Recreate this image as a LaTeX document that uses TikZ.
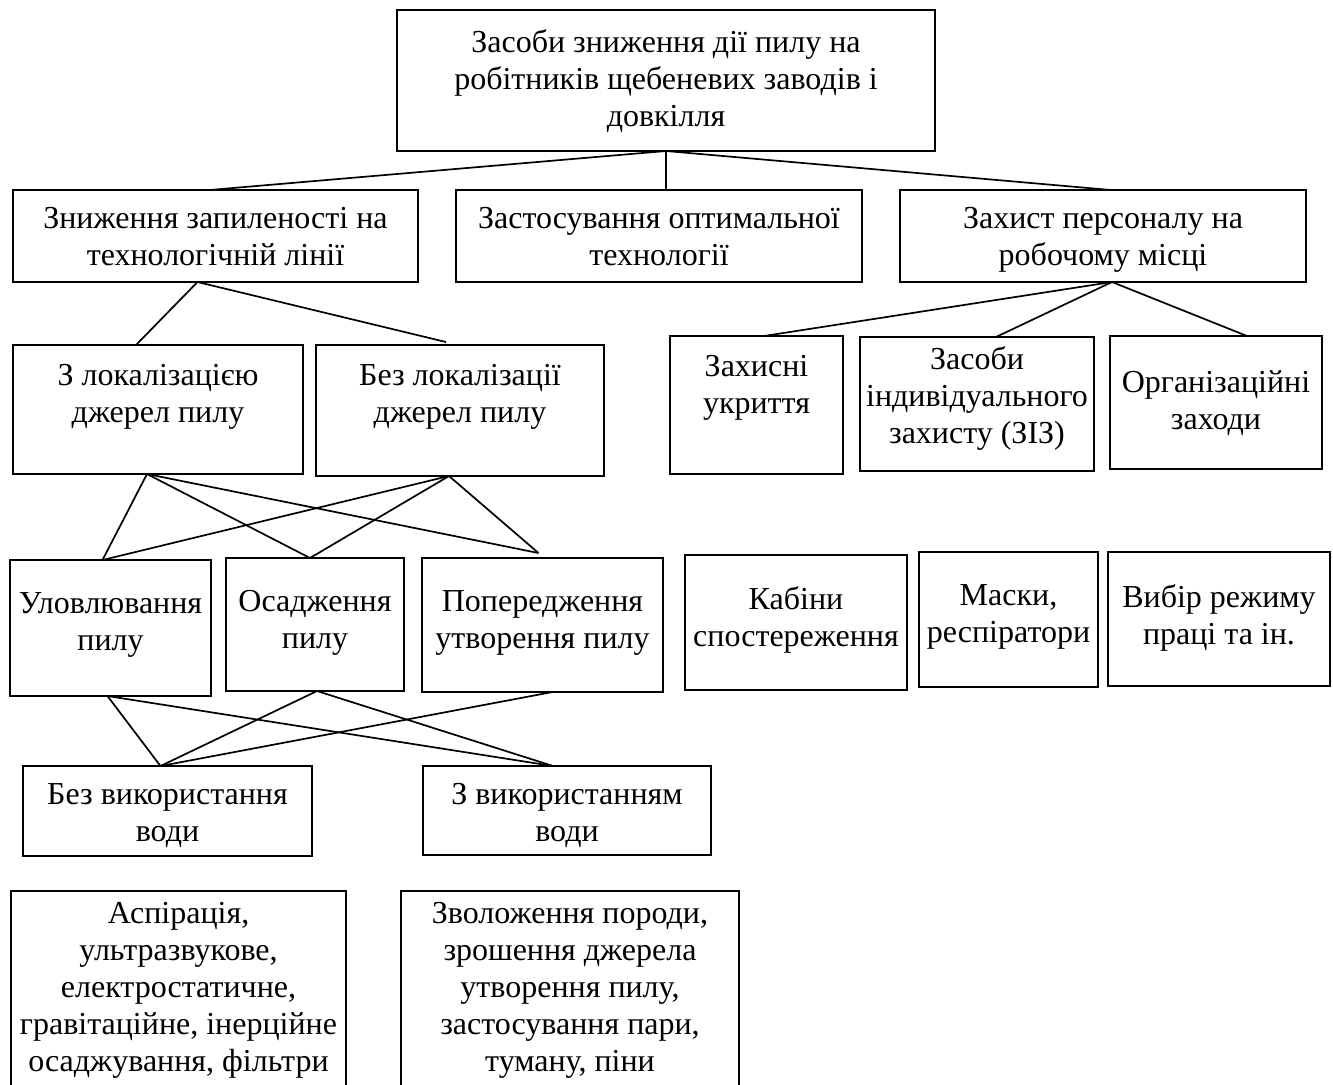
\documentclass[tikz,border=0pt]{standalone}
\usepackage{fontspec}
\setmainfont{Liberation Serif}
\usetikzlibrary{calc}
\newcommand\mybox[5]{\node[box,minimum width={(#4-#2)*0.5pt},minimum height={(#5-#3)*0.5pt}] (#1) at (#2,#3) {};}
\begin{document}
\begin{tikzpicture}[x=0.5pt,y=-0.5pt,
 box/.style={draw,line width=1pt,inner sep=0pt,outer sep=0pt,anchor=north west},
 txt/.style={align=center,font=\fontsize{16}{18.5}\selectfont,inner sep=0pt},
 con/.style={line width=0.85pt}]
\useasboundingbox (0,0) rectangle (1333,1084);
\clip (0,0) rectangle (1333,1084);
\mybox{top}{397}{10}{935}{151}
\mybox{A}{13}{190}{418}{282}
\mybox{B}{456}{190}{862}{282}
\mybox{C}{900}{190}{1306}{282}
\mybox{D}{13}{345}{303}{474}
\mybox{E}{316}{345}{604}{476}
\mybox{F}{10}{560}{211}{696}
\mybox{G}{226}{558}{404}{691}
\mybox{H}{422}{558}{663}{692}
\mybox{I}{23}{766}{312}{856}
\mybox{J}{423}{766}{711}{855}
\mybox{K}{11}{891}{346}{1100}
\mybox{L}{401}{891}{739}{1100}
\mybox{M}{670}{336}{843}{474}
\mybox{N}{860}{337}{1094}{471}
\mybox{O}{1110}{336}{1322}{469}
\mybox{P}{685}{555}{907}{690}
\mybox{Q}{919}{552}{1098}{687}
\mybox{R}{1108}{552}{1330}{686}

\node[txt] (topt) at ($(top.center)+(0,1)$) {Засоби зниження дії пилу на\\робітників щебеневих заводів і\\довкілля};
\node[txt] (At) at ($(A.center)+(0,1)$) {Зниження запиленості на\\технологічній лінії};
\node[txt] (Bt) at ($(B.center)+(0,1)$) {Застосування оптимальної\\технології};
\node[txt] (Ct) at ($(C.center)+(0,4)$) {Захист персоналу на\\робочому місці};
\node[txt] (Dt) at ($(D.center)+(0,-13)$) {З локалізацією\\джерел пилу};
\node[txt] (Et) at ($(E.center)+(0,-14)$) {Без локалізації\\джерел пилу};
\node[txt] (Ft) at ($(F.center)+(0,-3)$) {Уловлювання\\пилу};
\node[txt] (Gt) at ($(G.center)+(0,-2)$) {Осадження\\пилу};
\node[txt] (Ht) at ($(H.center)+(0,-2)$) {Попередження\\утворення пилу};
\node[txt] (It) at ($(I.center)+(0,5)$) {Без використання\\води};
\node[txt] (Jt) at ($(J.center)+(0,5)$) {З використанням\\води};
\node[txt] (Kt) at ($(K.north)+(0,99)$) {Аспірація,\\ультразвукове,\\електростатичне,\\гравітаційне, інерційне\\осаджування, фільтри};
\node[txt] (Lt) at ($(L.north)+(0,99)$) {Зволоження породи,\\зрошення джерела\\утворення пилу,\\застосування пари,\\туману, піни};
\node[txt] (Mt) at ($(M.center)+(0,-17)$) {Захисні\\укриття};
\node[txt] (Nt) at ($(N.center)+(0,-6)$) {Засоби\\індивідуального\\захисту (ЗІЗ)};
\node[txt] (Ot) at ($(O.center)+(0,1)$) {Організаційні\\заходи};
\node[txt] (Pt) at ($(P.center)+(0,-3)$) {Кабіни\\спостереження};
\node[txt] (Qt) at ($(Q.center)+(0,-3)$) {Маски,\\респіратори};
\node[txt] (Rt) at ($(R.center)+(0,-1)$) {Вибір режиму\\праці та ін.};

% level 1
\draw[con] (top.south) -- ($(A.north)+(-6,0)$);
\draw[con] (top.south) -- (top.south |- B.north);
\draw[con] (top.south) -- ($(C.north)+(8,0)$);
% A to D,E
\draw[con] ($(A.south)+(-18,0)$) -- ($(D.north)+(-22,0)$);
\draw[con] ($(A.south)+(-18,0)$) -- ($(E.north)+(-14,-3)$);
% D,E to F,G,H
\draw[con] ($(D.south)+(-11,0)$) -- ($(F.north)+(-8,0)$);
\draw[con] ($(D.south)+(-11,0)$) -- ($(G.north)+(-5,0)$);
\draw[con] ($(D.south)+(-11,0)$) -- ($(H.north)+(-4,-5)$);
\draw[con] ($(E.south)+(-11,0)$) -- ($(F.north)+(-8,0)$);
\draw[con] ($(E.south)+(-11,0)$) -- ($(G.north)+(-5,0)$);
\draw[con] ($(E.south)+(-11,0)$) -- ($(H.north)+(-4,-5)$);
% F,G,H to I,J
\draw[con] ($(F.south)+(-3,0)$) -- ($(I.north)+(-7,0)$);
\draw[con] ($(F.south)+(-3,0)$) -- ($(J.north)+(-14,0)$);
\draw[con] ($(G.south)+(2,0)$) -- ($(I.north)+(-7,0)$);
\draw[con] ($(G.south)+(2,0)$) -- ($(J.north)+(-14,0)$);
\draw[con] ($(H.south)+(10,0)$) -- ($(I.north)+(-7,0)$);
\draw[con] ($(H.south)+(10,0)$) -- ($(H.south)+(10,0)$ |- J.north);
% I,J to K,L
\draw[con] ($(I.south)+(-6,0)$) -- ($(I.south)+(-6,0)$ |- K.north);
\draw[con] ($(J.south)+(-5,0)$) -- ($(J.south)+(-5,0)$ |- L.north);
% C to M,N,O
\draw[con] ($(C.south)+(9,0)$) -- ($(M.north)+(7.5,0)$);
\draw[con] ($(C.south)+(9,0)$) -- ($(N.north)+(19,0)$);
\draw[con] ($(C.south)+(9,0)$) -- ($(O.north)+(31,0)$);
% M,N,O to P,Q,R
\draw[con] ($(M.south)+(7.5,0)$) -- ($(M.south)+(7.5,0)$ |- P.north);
\draw[con] ($(N.south)+(14,0)$) -- ($(N.south)+(14,0)$ |- Q.north);
\draw[con] ($(O.south)+(-2,0)$) -- ($(O.south)+(-2,0)$ |- R.north);
\end{tikzpicture}
\end{document}
